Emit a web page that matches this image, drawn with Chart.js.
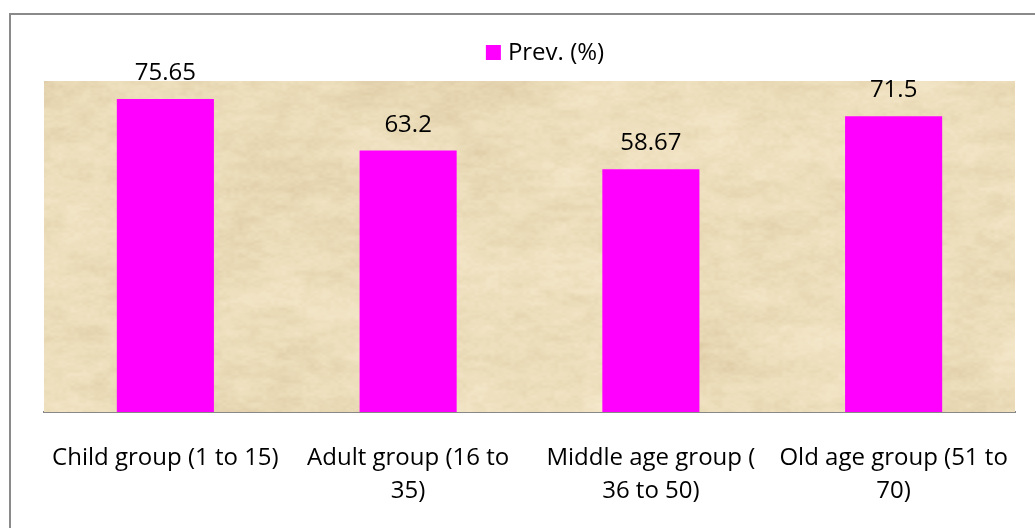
<!DOCTYPE html>
<html>
<head>
<meta charset="utf-8">
<script src="https://cdn.jsdelivr.net/npm/chart.js@4/dist/chart.umd.min.js"></script>
<style>
  html, body { margin: 0; padding: 0; background: #fff; overflow: hidden; }
  #frame {
    position: absolute; left: 9px; top: 13px;
    width: 1060px; height: 560px;
    border: 2px solid #8a8a8a; box-sizing: border-box;
  }
  #wrap { position: absolute; left: 0; top: 0; width: 1035px; height: 528px; }
</style>
</head>
<body>
<div id="frame"></div>
<div id="wrap"><canvas id="chart" width="1035" height="528"></canvas></div>
<script>
// Age groups and prevalence (%)
const categories = [
  "Child group (1 to 15)",
  "Adult group (16 to 35)",
  "Middle age group ( 36 to 50)",
  "Old age group (51 to 70)"
];
// Wrapped tick labels as they appear under the axis
const tickLines = [
  ["Child group (1 to 15)"],
  ["Adult group (16 to", "35)"],
  ["Middle age group (", "36 to 50)"],
  ["Old age group (51 to", "70)"]
];
const seriesName = "Prev. (%)";
const prevalence = [75.65, 63.2, 58.67, 71.5];

const FONT = "'Open Sans', 'Noto Sans', sans-serif";
const BAR_COLOR = "#FF00FF";

// Parchment texture for the plot background (deterministic value noise)
function makeParchment(w, h) {
  const c = document.createElement("canvas");
  c.width = w; c.height = h;
  const g = c.getContext("2d");
  const img = g.createImageData(w, h);
  function hash(x, y, s) {
    let n = (x * 374761393 + y * 668265263 + s * 1442695041) | 0;
    n = Math.imul(n ^ (n >>> 13), 1274126177);
    n = n ^ (n >>> 16);
    return (n >>> 0) / 4294967296;
  }
  function smooth(t) { return t * t * (3 - 2 * t); }
  function noise(x, y, s) {
    const xi = Math.floor(x), yi = Math.floor(y);
    const xf = smooth(x - xi), yf = smooth(y - yi);
    const a = hash(xi, yi, s), b = hash(xi + 1, yi, s);
    const c2 = hash(xi, yi + 1, s), d = hash(xi + 1, yi + 1, s);
    return (a + (b - a) * xf) * (1 - yf) + (c2 + (d - c2) * xf) * yf;
  }
  const dark = [222, 204, 166], mid = [236, 221, 186], light = [245, 233, 205];
  let p = 0;
  for (let y = 0; y < h; y++) {
    for (let x = 0; x < w; x++) {
      let v = 0;
      v += 0.30 * noise(x / 110, y / 70, 1);
      v += 0.28 * noise(x / 40, y / 18, 2);
      v += 0.24 * noise(x / 14, y / 6, 3);
      v += 0.18 * noise(x / 4, y / 2.5, 4);
      v = (v - 0.5) * 2.4;
      let col;
      if (v < 0) {
        const t = Math.min(1, -v);
        col = [mid[0] + (dark[0] - mid[0]) * t, mid[1] + (dark[1] - mid[1]) * t, mid[2] + (dark[2] - mid[2]) * t];
      } else {
        const t = Math.min(1, v);
        col = [mid[0] + (light[0] - mid[0]) * t, mid[1] + (light[1] - mid[1]) * t, mid[2] + (light[2] - mid[2]) * t];
      }
      img.data[p++] = col[0]; img.data[p++] = col[1]; img.data[p++] = col[2]; img.data[p++] = 255;
    }
  }
  g.putImageData(img, 0, 0);
  return c;
}

let parchment = null;
const parchmentBackground = {
  id: "parchmentBackground",
  beforeDatasetsDraw(chart) {
    const a = chart.chartArea;
    const w = Math.round(a.right - a.left), h = Math.round(a.bottom - a.top);
    if (!parchment || parchment.width !== w || parchment.height !== h) parchment = makeParchment(w, h);
    chart.ctx.drawImage(parchment, a.left, a.top, w, h);
  }
};

// Value labels above each bar
const valueLabels = {
  id: "valueLabels",
  afterDatasetsDraw(chart) {
    const ctx = chart.ctx;
    const meta = chart.getDatasetMeta(0);
    ctx.save();
    ctx.font = "24px " + FONT;
    ctx.fillStyle = "#000";
    ctx.textAlign = "center";
    ctx.textBaseline = "alphabetic";
    meta.data.forEach((bar, i) => {
      ctx.fillText(String(chart.data.datasets[0].data[i]), bar.x, bar.y - 19);
    });
    ctx.restore();
  }
};

// Single-entry legend above the plot
const seriesLegend = {
  id: "seriesLegend",
  afterDraw(chart) {
    const ctx = chart.ctx;
    const ds = chart.data.datasets[0];
    ctx.save();
    ctx.font = "24px " + FONT;
    const tw = ctx.measureText(ds.label).width;
    const box = 15, gap = 7;
    const total = box + gap + tw;
    const cx = 545;
    const x0 = cx - total / 2;
    ctx.fillStyle = ds.backgroundColor;
    ctx.fillRect(x0, 45, box, box);
    ctx.fillStyle = "#000";
    ctx.textAlign = "left";
    ctx.textBaseline = "alphabetic";
    ctx.fillText(ds.label, x0 + box + gap, 60);
    ctx.restore();
  }
};

new Chart(document.getElementById("chart"), {
  type: "bar",
  data: {
    labels: tickLines,
    datasets: [{
      label: seriesName,
      data: prevalence,
      backgroundColor: BAR_COLOR,
      borderWidth: 0,
      categoryPercentage: 1.0,
      barPercentage: 0.4
    }]
  },
  options: {
    responsive: false,
    animation: false,
    devicePixelRatio: 1,
    layout: { padding: { left: 44, right: 20, top: 81, bottom: 0 } },
    plugins: {
      legend: { display: false },
      tooltip: { enabled: false }
    },
    scales: {
      x: {
        grid: { display: false, drawTicks: false },
        border: { display: true, color: "#888888", width: 2 },
        ticks: {
          color: "#000",
          font: { family: FONT, size: 24, lineHeight: 1.4 },
          padding: 29,
          maxRotation: 0,
          autoSkip: false
        },
        afterFit(scale) {
          scale.height = 116;
          scale.paddingLeft = 0;
          scale.paddingRight = 0;
        }
      },
      y: {
        display: false,
        min: 0,
        max: 80
      }
    }
  },
  plugins: [parchmentBackground, valueLabels, seriesLegend]
});
</script>
</body>
</html>
